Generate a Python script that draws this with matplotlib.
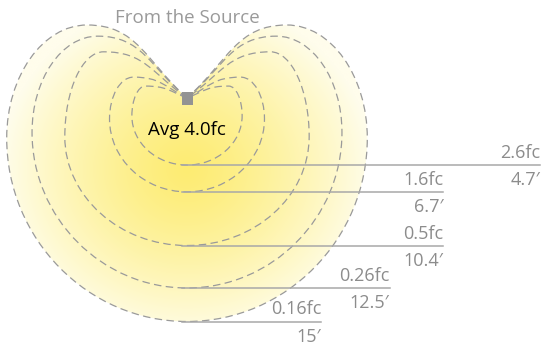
import numpy as np
import matplotlib.pyplot as plt
from matplotlib.path import Path
from matplotlib.patches import PathPatch, Rectangle

plt.rcParams['font.family'] = ['Open Sans', 'DejaVu Sans']

# iso-footcandle contours (feet, source at origin)
levels = ['0.16fc', '0.26fc', '0.5fc', '1.6fc', '2.6fc']
dist_lbl = ['15\u2032', '12.5\u2032', '10.4\u2032', '6.7\u2032', '4.7\u2032']
depth = [15.0, 12.75, 9.9, 6.3, 4.5]        # bottom of contour below source
half_width = [12.1, 10.4, 8.2, 5.2, 3.7]    # widest half width
width_drop = [2.7, 2.3, 2.6, 1.4, 1.2]      # depth of widest point
lobe_top = [4.9, 4.15, 3.1, 1.4, 0.8]       # lobe height above source
lobe_off = [6.7, 6.0, 5.6, 3.6, 2.8]        # lobe top horizontal offset
entry_deg = [42, 40, 35, 27, 22]            # angle the contour leaves the source
avg_fc = 'Avg 4.0fc'

label_end = [9.0, 13.6, 17.2, 17.2, 23.7]   # where each leader line stops

px = 14.9  # pixels per foot


def contour_path(D, W, yw, H, xt, deg):
    k = 0.55
    ang = np.radians(deg)
    a = 0.45 * np.hypot(xt, H)

    def half(sx):
        segA = [(sx * a * np.cos(ang), a * np.sin(ang)), (sx * 0.5 * xt, H), (sx * xt, H)]
        segB = [(sx * (xt + k * (W - xt)), H), (sx * W, -yw + k * (H + yw)), (sx * W, -yw)]
        segC = [(sx * W, -yw - k * (D - yw)), (sx * k * W, -D), (0, -D)]
        return [(0, 0)] + segA + segB + segC

    left = half(-1)
    right = half(1)[::-1]
    verts = left + right[1:]
    codes = [Path.MOVETO] + [Path.CURVE4] * (len(verts) - 1)
    return Path(verts, codes)


fig = plt.figure(figsize=(5.43, 3.45), dpi=100)
ax = fig.add_axes([0, 0, 1, 1])
x0, x1 = -187 / px, 356 / px
y0, y1 = -247 / px, 98 / px
ax.set_xlim(x0, x1)
ax.set_ylim(y0, y1)
ax.axis('off')

paths = [contour_path(depth[i], half_width[i], width_drop[i], lobe_top[i],
                      lobe_off[i], entry_deg[i]) for i in range(len(levels))]

# yellow glow inside the outer contour
gx, gy = np.meshgrid(np.linspace(x0, x1, 600), np.linspace(y0, y1, 400))
r = np.sqrt((gx / 12.5) ** 2 + ((gy + 4.8) / 11.5) ** 2)
t = np.clip(r, 0, 1) ** 1.3
c_in = np.array([253, 236, 115]) / 255
c_out = np.array([255, 253, 236]) / 255
img = c_in[None, None, :] * (1 - t[..., None]) + c_out[None, None, :] * t[..., None]
im = ax.imshow(img, extent=(x0, x1, y0, y1), origin='lower', zorder=1, aspect='auto')
clip = PathPatch(paths[0], transform=ax.transData, facecolor='none', edgecolor='none')
ax.add_patch(clip)
im.set_clip_path(clip)

for p in paths:
    ax.add_patch(PathPatch(p, facecolor='none', edgecolor='#9a9a9a', lw=0.9,
                           linestyle=(0, (6, 3.5)), zorder=2))

gray = '#8c8c8c'
for i in range(len(levels)):
    yl = -depth[i]
    ax.plot([-0.35, label_end[i]], [yl, yl], color='#a8a8a8', lw=1.1, zorder=3)
    ax.text(label_end[i], yl + 7 / px, levels[i], ha='right', va='baseline',
            fontsize=13, color=gray, zorder=4)
    ax.text(label_end[i], yl - 20 / px, dist_lbl[i], ha='right', va='baseline',
            fontsize=13, color=gray, zorder=4)

ax.add_patch(Rectangle((-5.5 / px, -7 / px), 11 / px, 13 / px, facecolor='#939393',
                       edgecolor='none', zorder=5))
ax.text(0, -32 / px, avg_fc, ha='center', va='center', fontsize=13.5, color='black', zorder=5)
ax.text(0, 80 / px, 'From the Source', ha='center', va='center', fontsize=13.5,
        color='#9a9a9a', zorder=5)

fig.savefig('out.png', dpi=100)
